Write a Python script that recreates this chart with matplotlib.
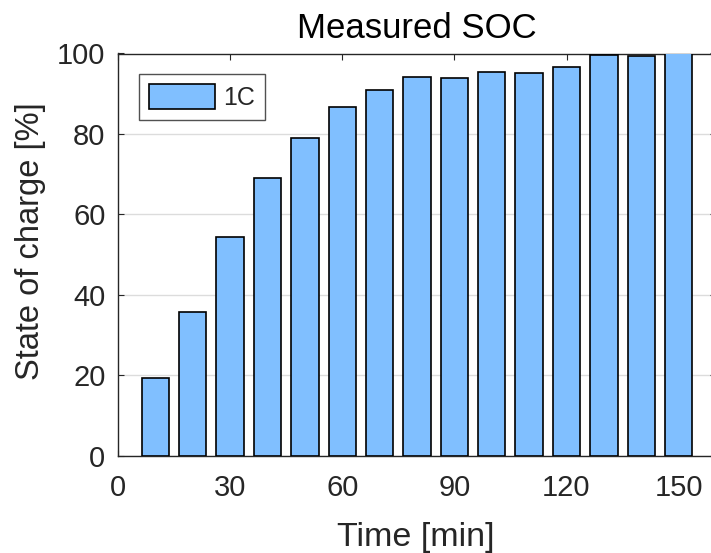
#!/usr/bin/env python3
"""Measured SOC bar chart (MATLAB look)"""

import matplotlib
matplotlib.use('Agg')
import matplotlib.pyplot as plt

plt.rcParams['font.family'] = ['Liberation Sans', 'DejaVu Sans']

# Data
time_min = [10, 20, 30, 40, 50, 60, 70, 80, 90, 100, 110, 120, 130, 140, 150]
soc_1c = [19.3, 35.7, 54.5, 69.0, 79.1, 86.8, 90.9, 94.2, 93.8, 95.5, 95.1, 96.7, 99.6, 99.5, 100.0]
x_ticks = [0, 30, 60, 90, 120, 150]
y_ticks = [0, 20, 40, 60, 80, 100]

W, H = 711, 553
fig = plt.figure(figsize=(W / 100, H / 100), dpi=100)
# axes right edge extends past the figure (cropped like the reference)
ax = fig.add_axes([118 / W, 1 - 455.7 / H, (716 - 118) / W, (455.7 - 53.5) / H])

txt = '#262626'
face = '#80bfff'

ax.bar(time_min, soc_1c, width=7.3, color=face, edgecolor='black', linewidth=1.2,
       label='1C', zorder=3)

ax.set_xlim(0, 160)
ax.set_ylim(0, 100)
ax.set_xticks(x_ticks)
ax.set_yticks(y_ticks)
ax.grid(True, axis='y', color='#dcdcdc', linewidth=1.0, zorder=0)
ax.set_axisbelow(True)

for s in ax.spines.values():
    s.set_color('#262626')
    s.set_linewidth(1.0)
ax.tick_params(direction='in', length=4, width=0.8, colors='#262626',
               labelsize=21, labelcolor=txt, top=True, right=True)
ax.tick_params(axis='x', pad=13)
ax.tick_params(axis='y', pad=9)

ax.set_xlabel('Time [min]', fontsize=24.5, color=txt, va='top')
ax.xaxis.set_label_coords(0.4975, -0.165)
ax.set_ylabel('State of charge [%]', fontsize=23.5, color=txt)
ax.yaxis.set_label_coords(-0.12, 0.5346)
ax.set_title('Measured SOC', fontsize=25, color='black', pad=11)

leg = ax.legend(loc='upper left', bbox_to_anchor=(0.0355, 0.948), fontsize=18,
                frameon=True, fancybox=False, edgecolor='#262626',
                handlelength=2.65, handleheight=1.15, handletextpad=0.3,
                borderpad=0.4, borderaxespad=0)
leg.get_frame().set_linewidth(1.0)
for t in leg.get_texts():
    t.set_color(txt)

plt.savefig('out.png', dpi=100, facecolor='white')
plt.close()
